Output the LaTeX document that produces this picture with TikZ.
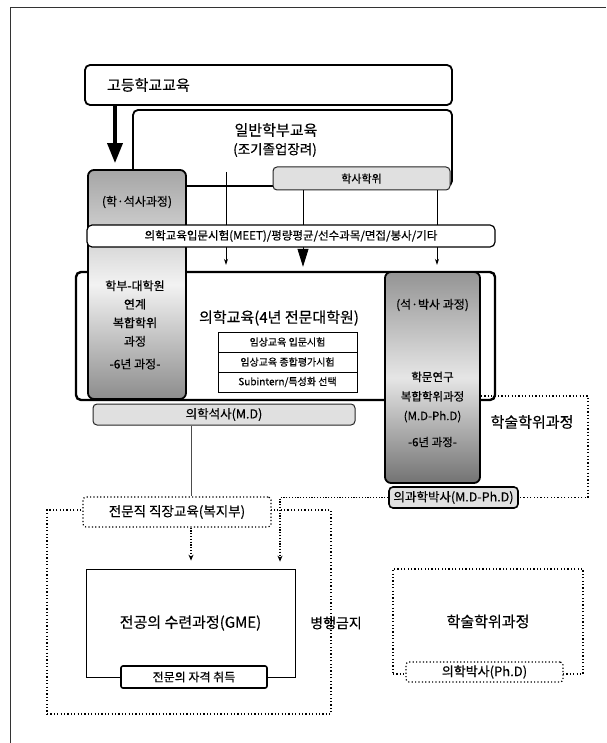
\documentclass[tikz,border=0pt]{standalone}
\usepackage{fontspec}
\setmainfont{Noto Sans CJK KR}[FakeBold=0.35]
\usetikzlibrary{arrows.meta,calc}
\tikzset{
  fs/.style 2 args={font=\fontsize{#1}{#2}\selectfont},
  framel/.style={draw=black!80, line width=0.8pt},
  thickbox/.style={draw=black, line width=1.8pt, rounded corners=5pt, fill=white, inner sep=0pt},
  medbox/.style={draw=black, line width=1.2pt, rounded corners=5pt, fill=white, inner sep=0pt},
  thinbox/.style={draw=black, line width=0.8pt, fill=white, inner sep=0pt},
  lightbar/.style={draw=black!85, line width=1pt, rounded corners=4pt, fill=black!12, inner sep=0pt},
  dotbox/.style={draw=black, line width=1.2pt, dash pattern=on 1.2pt off 2.2pt, rounded corners=3pt, fill=white, inner sep=0pt},
  shadebox/.style={draw=black, line width=1.8pt, rounded corners=6pt, inner sep=0pt},
  txt/.style={inner sep=0pt, align=center},
  thinarrow/.style={draw=black, line width=0.7pt, -{Stealth[length=6pt,width=4pt]}},
  thinline/.style={draw=black!70, line width=0.8pt},
  dotline/.style={draw=black, line width=1.2pt, dash pattern=on 1.2pt off 2.2pt},
  dotarrow/.style={draw=black, line width=1.1pt, dash pattern=on 1.2pt off 1.6pt, -{Stealth[length=6pt,width=5pt]}},
  bigarrow/.style={draw=black, line width=0.8pt, -{Triangle[length=18pt,width=11pt]}},
  fatarrow/.style={draw=black, line width=3.5pt, -{Triangle[length=20pt,width=15pt]}},
}
\begin{document}
\begin{tikzpicture}[x=1pt,y=-1pt]
\useasboundingbox (0,0) rectangle (606,743);
\draw[framel] (10,743) -- (10,7) -- (606,7);

% coordinates for connector columns
\coordinate (c0) at (115,0);
\coordinate (g1) at (226,172);
\coordinate (c2) at (303,0);
\coordinate (c3) at (437,0);
\coordinate (c4) at (191,0);
\coordinate (c5) at (280,0);
\coordinate (c6) at (588,396);

% high school
\node[thickbox, minimum width=367pt, minimum height=40pt, text width=323pt, align=left, inner xsep=22pt, fs={15}{18}] (hs) at (268.5,85) {고등학교교육};

% general undergraduate
\node[thickbox, minimum width=319pt, minimum height=76pt] (gen) at (292.5,148) {};
\node[txt, fs={15}{18}] (genA) at (276,130) {일반학부교육};
\node[txt, fs={13.5}{16}] (genB) at (275,150) {(조기졸업장려)};

% main box
\node[thickbox, line width=2.4pt, minimum width=419pt, minimum height=128pt] (main) at (285.5,336) {};
\node[txt, fs={15}{18}] (mainT) at (279,318) {의학교육(4년 전문대학원)};
\node[thinbox, minimum width=139pt, minimum height=20pt, fs={10}{12}] (s1) at (287.5,342) {임상교육 입문시험};
\node[thinbox, minimum width=139pt, minimum height=20pt, fs={10}{12}] (s2) at (287.5,362) {임상교육 종합평가시험};
\node[thinbox, minimum width=139pt, minimum height=20pt, fs={10}{12}] (s3) at (287.5,382) {Subintern/특성화 선택};

% right tall box
\node[shadebox, minimum width=95pt, minimum height=211pt, top color=black!42, bottom color=black!55, middle color=black!10] (mdphd) at (432.5,377.5) {};
\node[txt, fs={12}{14}] (mdphdA) at (432.5,305) {(석·박사 과정)};
\node[txt, fs={11.5}{19.5}] (mdphdB) at (432.5,397) {학문연구\\복합학위과정\\(M.D-Ph.D)};
\node[txt, fs={11.5}{14}] (mdphdC) at (432.5,442) {-6년 과정-};

% left tall box
\node[shadebox, minimum width=98pt, minimum height=229pt, top color=black!35, bottom color=black!45, middle color=black!5] (hsm) at (137,284.5) {};
\node[txt, fs={12}{14}] (hsmA) at (137,202) {(학·석사과정)};
\node[txt, fs={12}{18.5}] (hsmB) at (135,313.5) {학부-대학원\\연계\\복합학위\\과정};
\node[txt, fs={12}{14}] (hsmC) at (135,364) {-6년 과정-};

% bachelor degree bar
\node[lightbar, minimum width=177pt, minimum height=23pt, fs={11}{13}] (bach) at (361.5,178.5) {학사학위};

% arrows into main
\draw[fatarrow, shorten >=6pt] (hs.south -| c0) -- (c0 |- hsm.north);
\draw[thinarrow, shorten >=6pt] (g1) -- (g1 |- main.north);
\draw[bigarrow, shorten >=4pt] (bach.south -| c2) -- (c2 |- main.north);
\draw[thinarrow, shorten >=6pt] (bach.south -| c3) -- (c3 |- main.north);

% MEET bar
\node[medbox, minimum width=408pt, minimum height=22pt, fs={11.5}{14}] (meet) at (291,236) {의학교육입문시험(MEET)/평량평균/선수과목/면접/봉사/기타};

% master degree bar
\node[lightbar, minimum width=262pt, minimum height=21pt, fs={12.5}{15}] (md) at (224,414.5) {의학석사(M.D)};

% academic degree (top right)
\node[txt, fs={15}{18}] (acadT) at (532,422) {학술학위과정};
\node[thickbox, line width=1.6pt, rounded corners=4pt, fill=black!12, minimum width=129pt, minimum height=21pt, fs={12.5}{15}] (mpd) at (453.5,497.5) {의과학박사(M.D-Ph.D)};
\draw[dotline] (mdphd.east |- c6) -- (c6) -- (c6 |- mpd.east) -- (mpd.east);

% lower left: big dotted box, professional education, GME
\node[dotbox, rounded corners=0pt, fill=none, minimum width=284pt, minimum height=204pt] (big) at (189,612) {};
\node[dotbox, minimum width=188pt, minimum height=30pt, fs={13.5}{16}] (prof) at (177,512) {전문직 직장교육(복지부)};
\node[thinbox, minimum width=209pt, minimum height=108pt, fs={15}{18}] (gme) at (190.5,623) {전공의 수련과정(GME)};
\node[thickbox, line width=1.6pt, rounded corners=2pt, minimum width=146pt, minimum height=22pt, fs={12}{14}] (spec) at (194,677) {전문의 자격 취득};
\node[txt, fs={14}{16}] (ban) at (336,623) {병행금지};

\draw[thinline] (md.south -| c4) -- (prof.north -| c4);
\draw[dotarrow, shorten >=8pt] (prof.south -| c4) -- (gme.north -| c4);
\draw[dotarrow, shorten >=7pt] (mpd.west) -- (mpd.west -| c5) -- (c5 |- gme.north);

% lower right
\node[dotbox, rounded corners=0pt, minimum width=190pt, minimum height=105pt, fs={15}{18}] (acad) at (488,621.5) {학술학위과정};
\node[dotbox, minimum width=157pt, minimum height=20pt, fs={13}{15}] (phd) at (484.5,672) {의학박사(Ph.D)};
\end{tikzpicture}
\end{document}
